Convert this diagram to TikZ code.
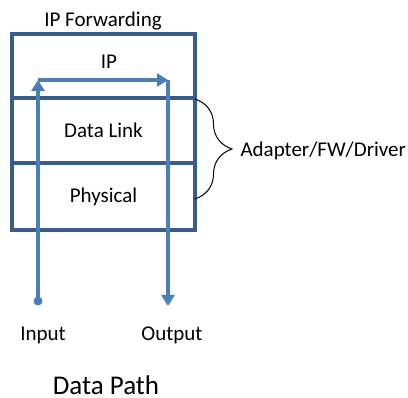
\documentclass[tikz,border=0pt]{standalone}
\usepackage{fontspec}
\setmainfont{Carlito}
\usetikzlibrary{arrows.meta,decorations.pathreplacing}
\definecolor{boxblue}{RGB}{56,93,138}
\definecolor{pathblue}{RGB}{74,126,187}
\tikzset{flow/.style={draw=pathblue, line width=3.2pt, -{Triangle[length=11pt,width=13pt]}}}
\begin{document}
\begin{tikzpicture}[x=1pt,y=1pt,font=\fontsize{21}{25}\selectfont]
		\useasboundingbox (0,0) rectangle (408,-398);

		\begin{scope}[every node/.style={rectangle,draw=boxblue,line width=3.3pt,minimum width=183pt,inner sep=0pt}]
			\node[minimum height=64pt] (ip) at (103.5,-66) {};
			\node[minimum height=65pt] (dl) at (103.5,-130.5) {Data Link};
			\node[minimum height=67pt] (ph) at (103.5,-196.5) {Physical};
		\end{scope}

		\node (title) at (103,-21) {IP Forwarding};
		\node (iplab) at (109,-62) {IP};
		\node (inlab) at (43,-335) {Input};
		\node (outlab) at (172,-335) {Output};
		\node[inner sep=0pt,font=\fontsize{27}{30}\selectfont] (caption) at (106,-385) {Data Path};

		\coordinate (in) at (38,-301);
		\coordinate (inTop) at (38,-80);
		\coordinate (outTop) at (168,-80);
		\coordinate (out) at (168,-306);

		\draw[flow] (in) -- (inTop);
		\draw[flow] (inTop) -- (outTop);
		\draw[flow] (outTop) -- (out);
		\fill[pathblue] (in) circle (4.5pt);

		\coordinate (braceTop) at (195,-99);
		\coordinate (braceBot) at (195,-199);
		\draw[line width=1pt,decorate,decoration={brace,amplitude=37pt}] (braceTop) -- (braceBot);
		\node[anchor=west] (adapter) at (237,-151) {Adapter/FW/Driver};
	\end{tikzpicture}
\end{document}
